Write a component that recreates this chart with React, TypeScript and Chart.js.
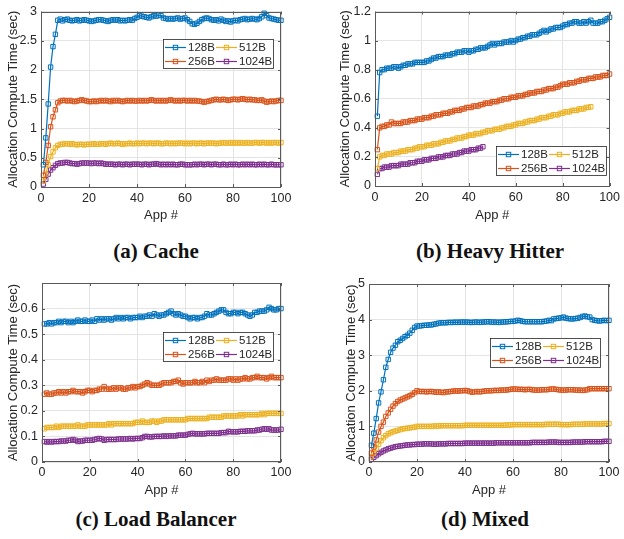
import React, { useEffect, useRef } from 'react';
import { Chart, registerables } from 'chart.js';
Chart.register(...registerables);

// ---------- labels ----------
const SERIES_NAMES = ['128B', '256B', '512B', '1024B'];
const X_TICKS = [0, 20, 40, 60, 80, 100];
const A_Y_TICKS = [0, 0.5, 1, 1.5, 2, 2.5, 3];
const B_Y_TICKS = [0, 0.2, 0.4, 0.6, 0.8, 1, 1.2];
const C_Y_TICKS = [0, 0.1, 0.2, 0.3, 0.4, 0.5, 0.6];
const D_Y_TICKS = [0, 1, 2, 3, 4, 5];
const X_TITLE = 'App #';
const Y_TITLE = 'Allocation Compute Time (sec)';
const CAPTIONS = ['(a) Cache', '(b) Heavy Hitter', '(c) Load Balancer', '(d) Mixed'];

// ---------- (a) Cache ----------
const A128 = [0.38,0.84,1.42,2.05,2.40,2.61,2.85,2.87,2.84,2.86,
  2.87,2.85,2.84,2.85,2.86,2.84,2.85,2.86,2.85,2.84,
  2.83,2.84,2.85,2.86,2.86,2.85,2.84,2.83,2.85,2.86,
  2.85,2.86,2.84,2.85,2.84,2.85,2.86,2.85,2.88,2.90,
  2.93,2.92,2.91,2.90,2.89,2.91,2.93,2.92,2.94,2.93,
  2.89,2.88,2.87,2.88,2.87,2.88,2.89,2.87,2.88,2.89,
  2.86,2.83,2.79,2.78,2.80,2.83,2.86,2.88,2.89,2.88,
  2.86,2.85,2.86,2.84,2.87,2.85,2.83,2.84,2.82,2.84,
  2.85,2.84,2.86,2.87,2.88,2.86,2.87,2.88,2.87,2.86,
  2.88,2.91,2.97,2.93,2.89,2.88,2.87,2.86,2.85,2.85];
const A256 = [0.20,0.42,0.71,1.03,1.20,1.32,1.44,1.47,1.48,1.48,
  1.47,1.48,1.47,1.46,1.47,1.48,1.49,1.48,1.47,1.46,
  1.46,1.47,1.46,1.47,1.48,1.47,1.48,1.47,1.46,1.48,
  1.47,1.48,1.47,1.46,1.47,1.48,1.47,1.48,1.47,1.47,
  1.48,1.47,1.48,1.47,1.48,1.49,1.48,1.47,1.48,1.47,
  1.48,1.47,1.48,1.49,1.48,1.47,1.48,1.47,1.48,1.48,
  1.47,1.48,1.47,1.48,1.47,1.47,1.46,1.45,1.46,1.47,
  1.48,1.49,1.50,1.49,1.49,1.50,1.49,1.48,1.49,1.50,
  1.50,1.49,1.50,1.51,1.50,1.49,1.50,1.49,1.49,1.48,
  1.48,1.49,1.47,1.45,1.46,1.47,1.46,1.47,1.48,1.48];
const A512 = [0.10,0.22,0.38,0.52,0.60,0.67,0.71,0.73,0.73,0.74,
  0.74,0.73,0.74,0.73,0.72,0.73,0.73,0.72,0.73,0.73,
  0.73,0.74,0.73,0.73,0.74,0.74,0.73,0.74,0.75,0.74,
  0.74,0.75,0.74,0.73,0.74,0.74,0.75,0.74,0.74,0.75,
  0.74,0.75,0.75,0.74,0.75,0.75,0.74,0.75,0.75,0.74,
  0.74,0.75,0.75,0.74,0.75,0.74,0.75,0.75,0.75,0.74,
  0.75,0.74,0.75,0.75,0.74,0.75,0.75,0.74,0.75,0.75,
  0.75,0.75,0.74,0.75,0.75,0.76,0.75,0.75,0.76,0.75,
  0.76,0.75,0.76,0.75,0.75,0.76,0.75,0.75,0.76,0.76,
  0.75,0.76,0.76,0.75,0.76,0.75,0.76,0.76,0.75,0.76];
const A1024 = [0.05,0.13,0.22,0.29,0.33,0.37,0.40,0.41,0.41,0.42,
  0.42,0.41,0.40,0.40,0.39,0.40,0.41,0.41,0.41,0.41,
  0.40,0.41,0.41,0.40,0.41,0.40,0.39,0.39,0.39,0.39,
  0.38,0.39,0.39,0.38,0.39,0.39,0.38,0.39,0.39,0.39,
  0.39,0.38,0.39,0.39,0.38,0.39,0.39,0.40,0.39,0.38,
  0.39,0.38,0.39,0.38,0.39,0.38,0.38,0.39,0.39,0.38,
  0.38,0.38,0.38,0.39,0.38,0.39,0.39,0.38,0.39,0.39,
  0.38,0.39,0.39,0.38,0.38,0.39,0.38,0.38,0.39,0.38,
  0.39,0.38,0.38,0.39,0.38,0.39,0.38,0.39,0.38,0.38,
  0.39,0.38,0.39,0.38,0.38,0.39,0.38,0.38,0.38,0.38];

// ---------- (b) Heavy Hitter ----------
const B128 = [0.48,0.78,0.80,0.80,0.81,0.81,0.81,0.82,0.82,0.81,
  0.82,0.83,0.83,0.84,0.84,0.84,0.85,0.85,0.85,0.85,
  0.85,0.86,0.86,0.87,0.88,0.88,0.89,0.89,0.89,0.90,
  0.90,0.90,0.91,0.91,0.92,0.92,0.92,0.93,0.93,0.92,
  0.93,0.93,0.94,0.94,0.95,0.95,0.95,0.96,0.97,0.98,
  0.97,0.98,0.98,0.98,0.99,0.99,0.99,1.00,0.99,1.00,
  1.01,1.01,1.02,1.02,1.03,1.03,1.04,1.04,1.04,1.05,
  1.06,1.07,1.06,1.07,1.08,1.08,1.09,1.09,1.09,1.10,
  1.11,1.11,1.12,1.12,1.13,1.13,1.12,1.12,1.13,1.12,
  1.13,1.14,1.12,1.12,1.12,1.13,1.13,1.14,1.15,1.16];
const B256 = [0.25,0.40,0.41,0.41,0.42,0.42,0.44,0.43,0.43,0.43,
  0.43,0.44,0.44,0.44,0.45,0.45,0.45,0.46,0.46,0.46,
  0.47,0.47,0.47,0.48,0.48,0.49,0.49,0.49,0.50,0.50,
  0.50,0.51,0.51,0.52,0.52,0.52,0.53,0.53,0.54,0.54,
  0.54,0.55,0.55,0.55,0.56,0.56,0.57,0.57,0.57,0.58,
  0.58,0.58,0.59,0.59,0.60,0.60,0.60,0.61,0.61,0.61,
  0.62,0.62,0.62,0.63,0.63,0.64,0.64,0.64,0.65,0.65,
  0.65,0.66,0.66,0.67,0.67,0.67,0.68,0.68,0.69,0.70,
  0.70,0.70,0.71,0.71,0.71,0.72,0.72,0.73,0.73,0.73,
  0.74,0.74,0.74,0.75,0.75,0.75,0.76,0.76,0.76,0.77];
const B512 = [0.12,0.20,0.21,0.21,0.22,0.22,0.22,0.23,0.23,0.23,
  0.24,0.24,0.24,0.25,0.25,0.25,0.26,0.26,0.27,0.27,
  0.27,0.28,0.28,0.28,0.29,0.29,0.29,0.30,0.30,0.31,
  0.31,0.31,0.32,0.32,0.33,0.33,0.33,0.34,0.34,0.35,
  0.35,0.35,0.36,0.36,0.36,0.37,0.37,0.38,0.38,0.38,
  0.39,0.39,0.39,0.40,0.40,0.41,0.41,0.41,0.42,0.42,
  0.43,0.43,0.43,0.44,0.44,0.45,0.45,0.45,0.46,0.46,
  0.47,0.47,0.47,0.48,0.48,0.49,0.49,0.49,0.50,0.50,
  0.51,0.51,0.51,0.52,0.52,0.52,0.53,0.53,0.53,0.54,
  0.54,0.545];
const B1024 = [0.08,0.12,0.12,0.13,0.13,0.13,0.14,0.14,0.14,0.14,
  0.15,0.15,0.15,0.15,0.16,0.16,0.16,0.17,0.17,0.17,
  0.18,0.18,0.18,0.19,0.19,0.19,0.20,0.20,0.20,0.21,
  0.21,0.21,0.22,0.22,0.22,0.23,0.23,0.24,0.24,0.24,
  0.25,0.25,0.25,0.26,0.26,0.27];

// ---------- (c) Load Balancer ----------
const C128 = [0.54,0.54,0.545,0.54,0.545,0.545,0.55,0.545,0.55,0.55,
  0.545,0.55,0.545,0.55,0.555,0.55,0.55,0.555,0.55,0.55,
  0.555,0.55,0.56,0.555,0.56,0.555,0.56,0.56,0.555,0.56,
  0.565,0.56,0.565,0.56,0.565,0.565,0.56,0.565,0.565,0.565,
  0.57,0.565,0.57,0.57,0.575,0.57,0.58,0.575,0.57,0.575,
  0.575,0.58,0.585,0.59,0.58,0.575,0.58,0.575,0.57,0.57,
  0.565,0.56,0.565,0.565,0.56,0.565,0.565,0.57,0.58,0.575,
  0.575,0.58,0.585,0.59,0.595,0.595,0.585,0.58,0.58,0.585,
  0.585,0.58,0.585,0.585,0.58,0.575,0.57,0.575,0.585,0.585,
  0.59,0.59,0.59,0.595,0.605,0.6,0.595,0.595,0.6,0.6];
const C256 = [0.265,0.27,0.265,0.265,0.27,0.27,0.275,0.27,0.275,0.27,
  0.275,0.275,0.28,0.275,0.275,0.275,0.27,0.275,0.28,0.28,
  0.275,0.28,0.28,0.285,0.285,0.295,0.285,0.285,0.285,0.29,
  0.285,0.29,0.29,0.285,0.285,0.29,0.29,0.295,0.29,0.295,
  0.295,0.3,0.305,0.31,0.305,0.3,0.3,0.3,0.3,0.305,
  0.31,0.31,0.31,0.31,0.315,0.315,0.32,0.31,0.305,0.31,
  0.31,0.31,0.31,0.315,0.31,0.31,0.315,0.31,0.32,0.315,
  0.32,0.32,0.325,0.32,0.32,0.32,0.32,0.325,0.325,0.32,
  0.325,0.32,0.325,0.325,0.33,0.325,0.325,0.33,0.33,0.335,
  0.33,0.33,0.33,0.325,0.33,0.335,0.33,0.33,0.33,0.33];
const C512 = [0.13,0.135,0.135,0.135,0.135,0.14,0.135,0.14,0.14,0.14,
  0.14,0.14,0.14,0.14,0.145,0.14,0.14,0.14,0.145,0.145,
  0.145,0.145,0.145,0.145,0.145,0.145,0.145,0.15,0.145,0.15,
  0.15,0.15,0.15,0.15,0.15,0.15,0.15,0.15,0.155,0.155,
  0.155,0.16,0.155,0.155,0.155,0.16,0.16,0.155,0.16,0.16,
  0.165,0.165,0.165,0.165,0.165,0.165,0.165,0.165,0.165,0.165,
  0.17,0.17,0.17,0.17,0.17,0.17,0.17,0.17,0.17,0.175,
  0.175,0.175,0.175,0.175,0.175,0.18,0.18,0.18,0.18,0.18,
  0.18,0.18,0.185,0.18,0.185,0.185,0.185,0.185,0.185,0.185,
  0.185,0.19,0.185,0.19,0.19,0.19,0.19,0.19,0.19,0.19];
const C1024 = [0.08,0.078,0.08,0.078,0.08,0.08,0.08,0.082,0.082,0.082,
  0.085,0.085,0.088,0.085,0.08,0.082,0.082,0.085,0.085,0.085,
  0.085,0.088,0.09,0.092,0.09,0.085,0.088,0.088,0.088,0.088,
  0.088,0.09,0.09,0.09,0.09,0.09,0.092,0.09,0.092,0.092,
  0.092,0.095,0.1,0.1,0.098,0.098,0.1,0.1,0.1,0.1,
  0.102,0.1,0.102,0.102,0.102,0.102,0.105,0.105,0.105,0.105,
  0.108,0.11,0.112,0.11,0.11,0.11,0.11,0.11,0.112,0.112,
  0.112,0.112,0.112,0.112,0.115,0.115,0.115,0.12,0.118,0.118,
  0.118,0.118,0.12,0.12,0.12,0.122,0.122,0.122,0.122,0.125,
  0.125,0.128,0.13,0.128,0.13,0.125,0.125,0.125,0.125,0.128];

// ---------- (d) Mixed ----------
const D128 = [0.47,0.81,1.22,1.66,1.97,2.31,2.66,2.88,3.08,3.20,
  3.28,3.38,3.42,3.47,3.52,3.56,3.62,3.70,3.78,3.82,
  3.82,3.83,3.84,3.84,3.85,3.85,3.87,3.88,3.90,3.91,
  3.91,3.91,3.92,3.92,3.92,3.93,3.92,3.93,3.93,3.93,
  3.93,3.92,3.92,3.93,3.93,3.92,3.93,3.93,3.94,3.94,
  3.93,3.93,3.93,3.92,3.93,3.93,3.94,3.94,3.95,3.95,
  3.96,3.98,3.97,3.95,3.94,3.94,3.94,3.94,3.94,3.94,
  3.94,3.94,3.95,3.96,3.98,3.97,4.02,4.03,4.04,4.05,
  4.07,4.04,4.03,4.02,4.02,4.03,4.04,4.06,4.09,4.10,
  4.08,4.07,4.00,3.98,3.97,3.96,3.97,3.98,3.97,3.98];
const D256 = [0.25,0.42,0.62,0.84,1.00,1.12,1.28,1.38,1.48,1.57,
  1.64,1.70,1.74,1.77,1.80,1.83,1.86,1.90,1.95,2.00,
  1.98,1.98,1.98,1.97,1.98,1.98,1.97,1.96,1.97,1.96,
  1.95,1.97,1.97,1.98,1.99,2.00,1.99,2.00,2.00,2.01,
  2.00,1.98,1.96,1.97,1.98,1.97,1.98,1.99,2.00,2.00,
  2.00,2.01,2.01,2.01,2.02,2.02,2.02,2.03,2.04,2.05,
  2.05,2.04,2.04,2.04,2.03,2.04,2.04,2.03,2.02,2.02,
  2.02,2.03,2.03,2.03,2.04,2.05,2.05,2.04,2.03,2.02,
  2.02,2.02,2.03,2.03,2.03,2.02,2.02,2.02,2.01,2.02,
  2.03,2.06,2.06,2.06,2.06,2.06,2.06,2.06,2.06,2.06];
const D512 = [0.15,0.25,0.38,0.50,0.60,0.68,0.74,0.79,0.82,0.85,
  0.87,0.89,0.91,0.93,0.94,0.95,0.96,0.97,0.98,1.00,
  1.00,1.00,1.00,1.00,1.00,1.00,1.01,1.01,1.01,1.02,
  1.02,1.02,1.02,1.02,1.02,1.02,1.02,1.02,1.02,1.03,
  1.03,1.03,1.03,1.03,1.03,1.03,1.03,1.03,1.03,1.03,
  1.03,1.03,1.03,1.03,1.03,1.03,1.04,1.04,1.04,1.05,
  1.05,1.05,1.05,1.05,1.05,1.05,1.05,1.05,1.05,1.05,
  1.05,1.05,1.05,1.06,1.06,1.06,1.06,1.06,1.06,1.05,
  1.05,1.05,1.05,1.05,1.06,1.06,1.06,1.06,1.06,1.07,
  1.07,1.07,1.07,1.07,1.07,1.07,1.07,1.08,1.08,1.08];
const D1024 = [0.08,0.13,0.18,0.23,0.27,0.31,0.34,0.37,0.39,0.41,
  0.43,0.44,0.45,0.46,0.47,0.48,0.48,0.49,0.49,0.50,
  0.50,0.50,0.51,0.51,0.51,0.51,0.50,0.50,0.51,0.51,
  0.51,0.51,0.52,0.52,0.52,0.52,0.52,0.52,0.52,0.53,
  0.53,0.53,0.53,0.53,0.53,0.53,0.53,0.53,0.53,0.53,
  0.53,0.53,0.54,0.54,0.54,0.54,0.54,0.54,0.54,0.54,
  0.54,0.54,0.54,0.54,0.54,0.54,0.54,0.55,0.55,0.55,
  0.55,0.55,0.55,0.55,0.56,0.56,0.56,0.56,0.55,0.55,
  0.55,0.55,0.55,0.55,0.56,0.56,0.56,0.56,0.56,0.57,
  0.57,0.57,0.57,0.57,0.57,0.57,0.57,0.58,0.58,0.58];

// ---------- styling ----------
const COLORS = ['#0072BD', '#D95319', '#EDB120', '#7E2F8E'];
const AXIS_COLOR = '#5a5a5a';
const TEXT_COLOR = '#262626';
const GRID_COLOR = '#e4e4e4';
const SANS = '"Liberation Sans", Arial, Helvetica, sans-serif';

type Panel = {
  left: number; top: number; w: number; h: number;
  area: { l: number; r: number; t: number; b: number };
  yMax: number; yTicks: number[]; series: number[][];
  legend: [number, number]; yTitleX: number; xTitleY: number; xTickPad: number;
  caption: string; capX: number; capY: number;
};

const PANELS: Panel[] = [
  { left: 0, top: 0, w: 312, h: 230, area: { l: 41, r: 281, t: 9, b: 187 }, yMax: 3, yTicks: A_Y_TICKS,
    series: [A128, A256, A512, A1024], legend: [163, 39], yTitleX: 13, xTitleY: 215, xTickPad: 4,
    caption: CAPTIONS[0], capX: 156, capY: 251 },
  { left: 312, top: 0, w: 312, h: 230, area: { l: 63, r: 302, t: 9, b: 186 }, yMax: 1.2, yTicks: B_Y_TICKS,
    series: [B128, B256, B512, B1024], legend: [184, 146], yTitleX: 33, xTitleY: 215, xTickPad: 4,
    caption: CAPTIONS[1], capX: 490, capY: 251 },
  { left: 0, top: 270, w: 312, h: 230, area: { l: 42, r: 281, t: 13, b: 192 }, yMax: 0.7, yTicks: C_Y_TICKS,
    series: [C128, C256, C512, C1024], legend: [163, 62], yTitleX: 13, xTitleY: 220, xTickPad: 3,
    caption: CAPTIONS[2], capX: 156, capY: 519 },
  { left: 312, top: 270, w: 312, h: 230, area: { l: 57, r: 297, t: 14, b: 192 }, yMax: 5, yTicks: D_Y_TICKS,
    series: [D128, D256, D512, D1024], legend: [178, 68], yTitleX: 39, xTitleY: 220, xTickPad: 3,
    caption: CAPTIONS[3], capX: 485, capY: 519 },
];

const TICK_FONT = 12.5;
const TITLE_FONT = 13;
const LEGEND_FONT = 11.5;

const framePlugin = {
  id: 'frame',
  afterDraw(chart: any, _args: any, opts: any) {
    const { ctx, chartArea: a, scales } = chart;
    const xs = scales.x, ys = scales.y;
    ctx.save();
    // box
    ctx.strokeStyle = AXIS_COLOR;
    ctx.lineWidth = 1;
    ctx.strokeRect(Math.round(a.left) + 0.5, Math.round(a.top) + 0.5,
      Math.round(a.right - a.left) - 1, Math.round(a.bottom - a.top) - 1);
    // inward tick marks
    ctx.beginPath();
    for (const v of X_TICKS) {
      const px = Math.round(xs.getPixelForValue(v)) + 0.5;
      ctx.moveTo(px, a.bottom); ctx.lineTo(px, a.bottom - 3);
      ctx.moveTo(px, a.top); ctx.lineTo(px, a.top + 3);
    }
    for (const v of opts.yTicks) {
      const py = Math.round(ys.getPixelForValue(v)) + 0.5;
      ctx.moveTo(a.left, py); ctx.lineTo(a.left + 3, py);
      ctx.moveTo(a.right, py); ctx.lineTo(a.right - 3, py);
    }
    ctx.stroke();
    // legend
    const [lx, ly] = opts.legend;
    const lw = 110, lh = 29;
    ctx.fillStyle = '#ffffff';
    ctx.fillRect(lx, ly, lw, lh);
    ctx.strokeStyle = '#262626';
    ctx.lineWidth = 0.8;
    ctx.strokeRect(lx + 0.5, ly + 0.5, lw, lh);
    ctx.font = `${LEGEND_FONT}px ${SANS}`;
    ctx.textBaseline = 'middle';
    ctx.textAlign = 'left';
    const cols = [2, 53];
    const rows = [8, 22];
    SERIES_NAMES.forEach((name, i) => {
      const c = Math.floor(i / 2), r = i % 2;
      const x0 = lx + cols[c], y0 = ly + rows[r] + 0.5;
      ctx.strokeStyle = COLORS[i];
      ctx.lineWidth = 1.2;
      ctx.beginPath();
      ctx.moveTo(x0, y0); ctx.lineTo(x0 + 21, y0);
      ctx.stroke();
      ctx.lineWidth = 1;
      ctx.strokeRect(x0 + 10.5 - 2.2, y0 - 2.2, 4.4, 4.4);
      ctx.fillStyle = TEXT_COLOR;
      ctx.fillText(name, x0 + 23, y0);
    });
    ctx.restore();
  },
};

const fmt = (v: any) => `${Math.round(Number(v) * 1000) / 1000}`;

function PanelChart({ p }: { p: Panel }) {
  const ref = useRef<HTMLCanvasElement | null>(null);
  useEffect(() => {
    if (!ref.current) return;
    const lh = TITLE_FONT * 1.2;
    const chart = new Chart(ref.current, {
      type: 'line',
      data: {
        datasets: p.series.map((vals, i) => ({
          label: SERIES_NAMES[i],
          data: vals.map((v, k) => ({ x: k + 1, y: v })),
          borderColor: COLORS[i],
          backgroundColor: 'rgba(255,255,255,0)',
          borderWidth: 1.2,
          pointStyle: 'rect',
          pointRadius: 3.1,
          pointBorderWidth: 1,
          pointBorderColor: COLORS[i],
          pointBackgroundColor: 'rgba(255,255,255,0)',
          tension: 0,
          clip: false as any,
        })),
      },
      options: {
        animation: false,
        responsive: false,
        devicePixelRatio: 1,
        layout: { padding: { left: 0, top: p.area.t, right: p.w - p.area.r, bottom: 0 } },
        plugins: {
          legend: { display: false },
          tooltip: { enabled: false },
          frame: { legend: p.legend, yTicks: p.yTicks },
        } as any,
        scales: {
          x: {
            type: 'linear',
            min: 0, max: 100,
            afterBuildTicks: (s: any) => { s.ticks = X_TICKS.map((v) => ({ value: v })); },
            afterFit: (s: any) => { s.height = p.h - p.area.b; },
            grid: { color: GRID_COLOR, drawTicks: false, lineWidth: 1 },
            border: { display: false },
            ticks: { color: TEXT_COLOR, font: { family: SANS, size: TICK_FONT }, padding: p.xTickPad, maxRotation: 0, callback: fmt },
            title: { display: true, text: X_TITLE, color: TEXT_COLOR, font: { family: SANS, size: TITLE_FONT },
              padding: { top: 0, bottom: p.h - p.xTitleY - lh / 2 } },
          },
          y: {
            type: 'linear',
            min: 0, max: p.yMax,
            afterBuildTicks: (s: any) => { s.ticks = p.yTicks.map((v) => ({ value: v })); },
            afterFit: (s: any) => { s.width = p.area.l; },
            grid: { color: GRID_COLOR, drawTicks: false, lineWidth: 1 },
            border: { display: false },
            ticks: { color: TEXT_COLOR, font: { family: SANS, size: TICK_FONT }, padding: 4, callback: fmt },
            title: { display: true, text: Y_TITLE, color: TEXT_COLOR, font: { family: SANS, size: TITLE_FONT },
              padding: { top: p.yTitleX - lh / 2, bottom: 0 } },
          },
        },
      },
      plugins: [framePlugin],
    });
    return () => chart.destroy();
  }, [p]);
  return (
    <canvas ref={ref} width={p.w} height={p.h}
      style={{ position: 'absolute', left: p.left, top: p.top, width: p.w, height: p.h }} />
  );
}

export default function App() {
  return (
    <div style={{ position: 'absolute', left: 0, top: 0, width: 624, height: 539, background: '#ffffff', overflow: 'hidden' }}>
      {PANELS.map((p, i) => (
        <React.Fragment key={i}>
          <PanelChart p={p} />
          <div style={{
            position: 'absolute', left: p.capX, top: p.capY, transform: 'translate(-50%, -50%)',
            whiteSpace: 'nowrap', fontFamily: '"Liberation Serif", "DejaVu Serif", serif', fontWeight: 'bold',
            fontSize: 21, color: '#111',
          }}>{p.caption}</div>
        </React.Fragment>
      ))}
    </div>
  );
}
